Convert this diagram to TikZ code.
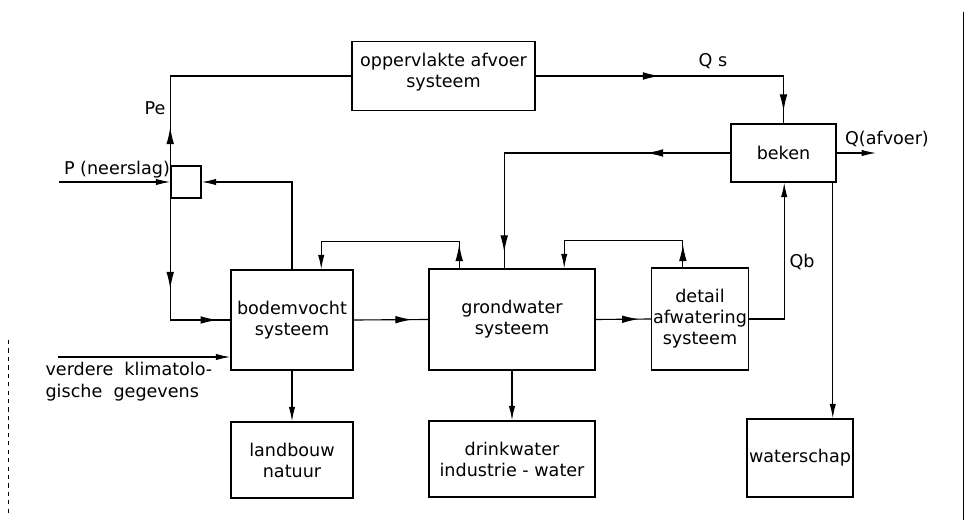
\documentclass[tikz,border=0pt]{standalone}
\usepackage{fontspec}
\setmainfont{DejaVu Sans}
\usetikzlibrary{arrows.meta,calc,decorations.markings}

\begin{document}
\begin{tikzpicture}[x=0.25mm,y=-0.25mm,>={Latex[length=3.6mm,width=1.6mm]},
    font=\fontsize{12.5}{15}\selectfont,line width=0.8pt,
    box/.style={draw,line width=1.1pt,inner sep=1pt,align=center},
    tipat/.style={postaction={decorate,decoration={markings,mark=at position #1 with {\arrow{Latex[length=4.2mm,width=1.9mm]}}}}}]
  \useasboundingbox (0,0) rectangle (970,523);
  % systemen
  \node[box,minimum width=45.75mm,minimum height=17.25mm,text depth=3mm] (opp) at (443.5,76) {oppervlakte afvoer\\systeem};
  \node[box,minimum width=26.25mm,minimum height=14.5mm] (beken) at (783.5,153) {beken};
  \node[box,minimum width=7.5mm,minimum height=8mm] (split) at (186,182) {};
  \node[box,minimum width=30.5mm,minimum height=25mm] (bodem) at (292,320) {bodemvocht\\systeem};
  \node[box,minimum width=41.5mm,minimum height=25.25mm] (grond) at (512,319.5) {grondwater\\systeem};
  \node[box,minimum width=23mm,minimum height=25.5mm] (detail) at (700,319) {detail\\afwatering\\systeem};
  \node[box,minimum width=30.5mm,minimum height=19mm] (landb) at (292,460) {landbouw\\natuur};
  \node[box,minimum width=41.5mm,minimum height=19mm] (drink) at (512,459) {drinkwater\\industrie - water};
  \node[box,minimum width=26.5mm,minimum height=19.5mm] (wschap) at (800,458) {waterschap};
  % vrije eindpunten
  \coordinate (pin) at (59,182);
  \coordinate (clim) at (58,357);
  \coordinate (qout) at (876,153);
  \coordinate (bk) at ($(beken.south east)+(-4,0)$);
  % stromen
  \draw[->] (pin) -- (split);
  \draw[tipat=9.5mm] (split.north west) |- (opp.west);
  \draw[->] (bodem.north) |- (split.east);
  \draw[tipat=22.5mm,tipat=-3.2mm] (split.south west) |- (bodem.west);
  \draw[->] (clim) -- (clim -| bodem.west);
  \draw[tipat=-4mm] (bodem.east) -- (grond.west);
  \draw[->] (bodem) -- (landb);
  \draw[tipat=6mm,->] ($(grond.north west)+(31,0)$) -- ++(0,-27) -| ($(bodem.north west)+(91,0)$);
  \draw[tipat=5.75mm,->] ($(detail.north west)+(32,0)$) -- ++(0,-27) -| ($(grond.north west)+(136,0)$);
  \draw[tipat=-3mm] (grond.east) -- (detail.west);
  \draw[->] (grond) -- (drink);
  \draw[tipat=31mm,tipat=-3mm] (opp.east) -| (beken.north);
  \draw[tipat=21mm,tipat=-4mm] (beken.west) -| ($(grond.north west)+(76,0)$);
  \draw[->] (beken.east) -- (qout);
  \draw[->] (detail.east) -| ($(beken.south west)+(54,0)$);
  \draw[->] (bk) -- (bk |- wschap.north);
  % labels
  \node (lpn) at (117,170) {P (neerslag)};
  \node (lpe) at (155,108) {Pe};
  \node[align=left,anchor=north west,inner sep=0pt] (lclim) at (45,362) {verdere\ \ klimatolo-\\gische\ \ gegevens};
  \node (lqs) at (713,61) {Q s};
  \node (lq) at (887,139) {Q(afvoer)};
  \node (lqb) at (802,262) {Qb};
  % bladrand
  \draw[line width=0.6pt] (963,12) -- (963,520);
  \draw[line width=0.4pt,dashed] (8,340) -- (8,515);
\end{tikzpicture}
\end{document}
